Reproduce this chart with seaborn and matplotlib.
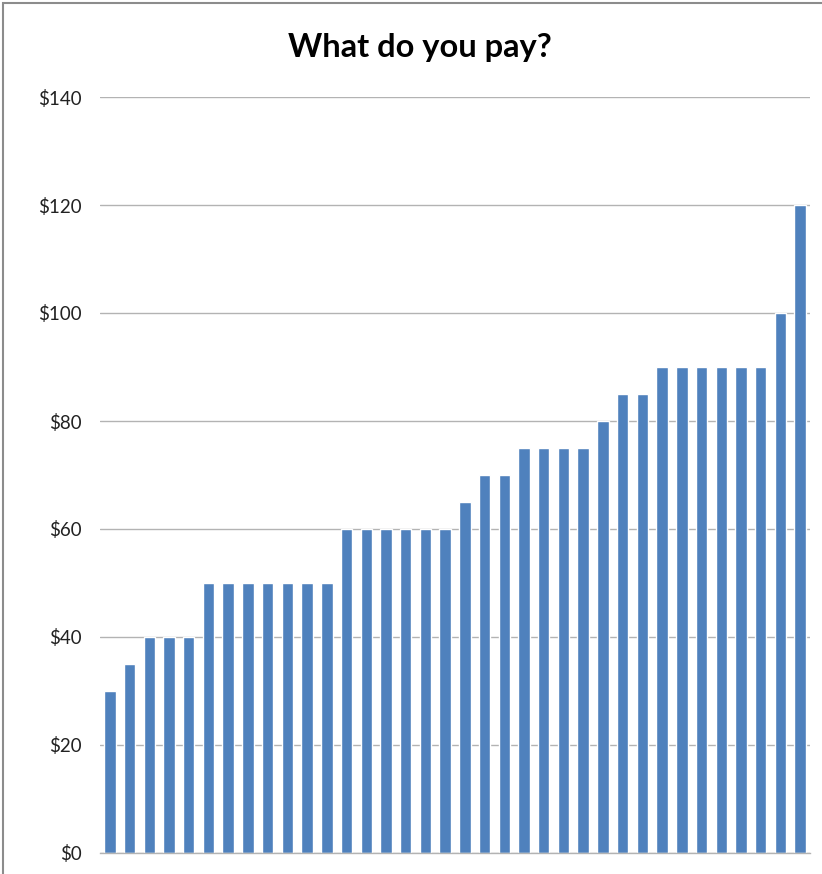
import matplotlib
matplotlib.use("Agg")
import matplotlib.pyplot as plt
import seaborn as sns
import pandas as pd
from matplotlib.patches import Rectangle

respondents = list(range(1, 37))
payments = [30, 35, 40, 40, 40, 50, 50, 50, 50, 50, 50, 50,
            60, 60, 60, 60, 60, 60, 65, 70, 70, 75, 75, 75, 75,
            80, 85, 85, 90, 90, 90, 90, 90, 90, 100, 120]
y_ticks = [0, 20, 40, 60, 80, 100, 120, 140]
y_labels = ["$0", "$20", "$40", "$60", "$80", "$100", "$120", "$140"]
title = "What do you pay?"

df = pd.DataFrame({"respondent": [str(r) for r in respondents], "pay": payments})

sns.set_style("white")
plt.rcParams["font.family"] = ["Lato", "DejaVu Sans"]

fig = plt.figure(figsize=(8.22, 8.74), dpi=100)
ax = fig.add_axes([100/822, 21/874, 710/822, 756/874])

sns.barplot(data=df, x="respondent", y="pay", color="#4F81BD", saturation=1,
            width=0.58, ax=ax, order=[str(r) for r in respondents])

ax.set_xlim(-0.5, len(respondents) - 0.5)
ax.set_ylim(0, 140)
ax.set_yticks(y_ticks)
ax.set_yticklabels(y_labels, fontsize=13.5, color="#222222")
ax.yaxis.grid(True, color="#B3B3B3", linewidth=1)
ax.set_axisbelow(True)
ax.set_xticks([])
ax.set_xlabel("")
ax.set_ylabel("")
ax.tick_params(axis="y", length=0, pad=13)
for s in ["top", "right", "left"]:
    ax.spines[s].set_visible(False)
ax.spines["bottom"].set_color("#B3B3B3")
ax.spines["bottom"].set_linewidth(1)

fig.text(420/822, 1 - 47/874, title, ha="center", va="center",
         fontsize=23.5, fontweight="bold", color="#000000")

fig.patches.append(Rectangle((3/822, -0.2), 1.2, 1.2 - 3/874 + 0.0,
                             transform=fig.transFigure, fill=False,
                             edgecolor="#8C8C8C", linewidth=1.5, zorder=10))

fig.savefig("out.png", dpi=100)
